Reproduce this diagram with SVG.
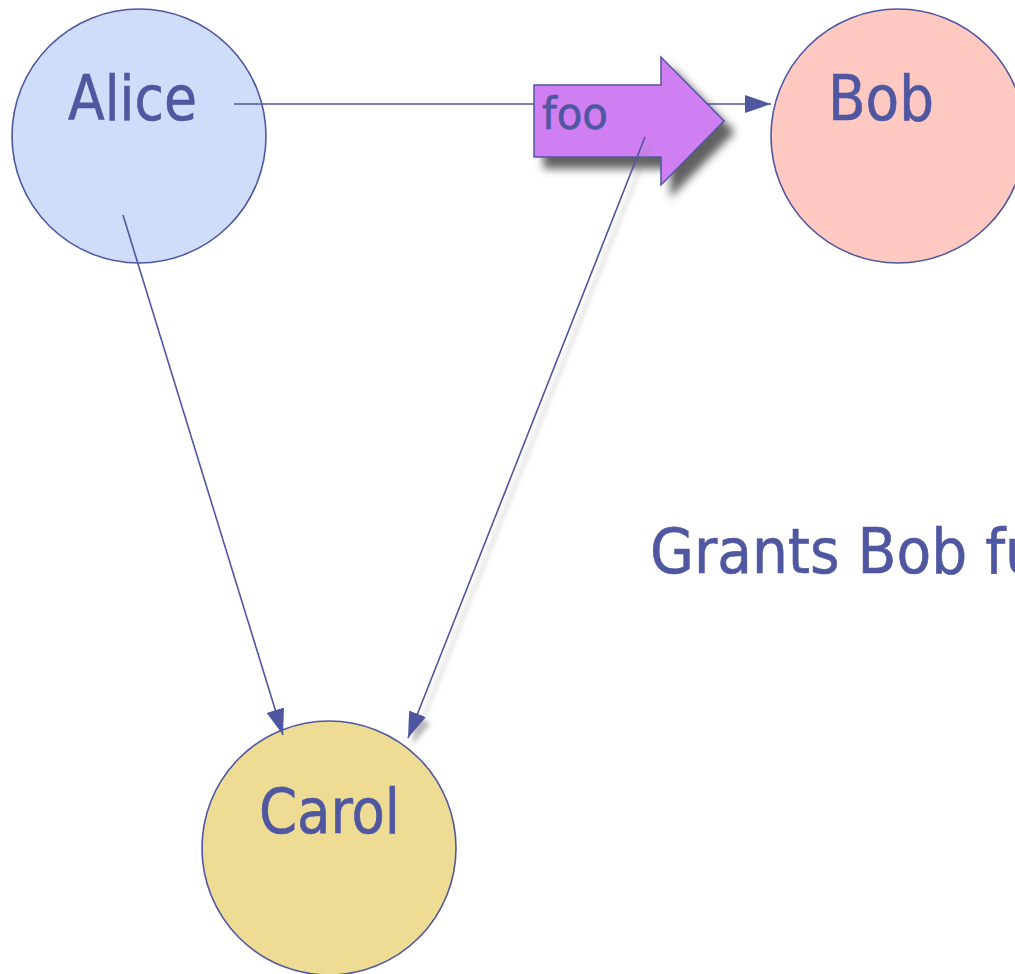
<svg xmlns="http://www.w3.org/2000/svg" width="1015" height="974" viewBox="0 0 1015 974">
  <style>
    .node { stroke: #4f57a0; stroke-width: 1.6; }
    .label { font-family: "DejaVu Sans Condensed", "DejaVu Sans", sans-serif; fill: #4f57a0; stroke: #4f57a0; stroke-width: 0.6; }
    .edge { stroke: #4f57a0; stroke-width: 1.6; fill: none; }
  </style>
  <defs>
    <marker id="arrow" viewBox="0 0 26 18" refX="26" refY="9" markerWidth="26" markerHeight="18" markerUnits="userSpaceOnUse" orient="auto">
      <path d="M0,0 L26,9 L0,18 Z" fill="#4f57a0"/>
    </marker>
    <filter id="shadow" x="-20%" y="-20%" width="160%" height="160%">
      <feDropShadow dx="10" dy="11" stdDeviation="4.5" flood-color="#444" flood-opacity="0.85"/>
    </filter>
    <filter id="lineShadow" x="-20%" y="-10%" width="140%" height="130%">
      <feDropShadow dx="5" dy="6" stdDeviation="2.5" flood-color="#888" flood-opacity="0.6"/>
    </filter>
  </defs>

  <g id="alice">
    <circle class="node" cx="139" cy="136" r="127" fill="#cfdcfa"/>
    <text class="label" x="68" y="120" font-size="63" textLength="129" lengthAdjust="spacingAndGlyphs">Alice</text>
  </g>

  <g id="bob">
    <circle class="node" cx="898" cy="136" r="127" fill="#ffc8c0"/>
    <text class="label" x="828" y="120" font-size="63" textLength="106" lengthAdjust="spacingAndGlyphs">Bob</text>
  </g>

  <g id="carol">
    <circle class="node" cx="329" cy="848" r="127" fill="#efdc94"/>
    <text class="label" x="259" y="833" font-size="63" textLength="141" lengthAdjust="spacingAndGlyphs">Carol</text>
  </g>

  <g id="connectors">
    <line class="edge" x1="234" y1="104" x2="771" y2="104" marker-end="url(#arrow)"/>
    <line class="edge" x1="123" y1="215" x2="283" y2="735" marker-end="url(#arrow)"/>
  </g>

  <g id="foo">
    <path d="M534,85 L661,85 L661,57 L724,121 L661,185 L661,157 L534,157 Z" fill="#cf7ff2" stroke="#4f57a0" stroke-width="1.5" filter="url(#shadow)"/>
    <text class="label" x="542" y="129" font-size="44" textLength="66" lengthAdjust="spacingAndGlyphs">foo</text>
  </g>

  <g id="foo-to-carol">
    <line class="edge" x1="645" y1="137" x2="408" y2="738" marker-end="url(#arrow)" filter="url(#lineShadow)"/>
  </g>

  <g id="caption">
    <text class="label" x="650" y="573" font-size="63">Grants Bob fu</text>
  </g>
</svg>
